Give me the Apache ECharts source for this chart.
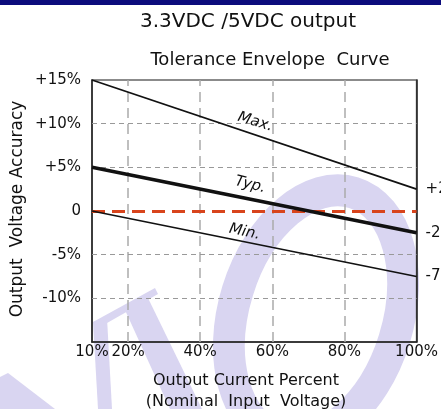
<!DOCTYPE html>
<html>
<head>
<meta charset="utf-8">
<script src="https://cdn.jsdelivr.net/npm/echarts@6/dist/echarts.min.js"></script>
<style>
html,body{margin:0;padding:0;background:#fff;}
#chart{width:441px;height:409px;}
</style>
</head>
<body>
<div id="chart"></div>
<script>
// ---- data ----
const loadPct = [10, 100];              // Output current percent (x)
const maxAcc = [15, 2.5];               // Max. curve
const typAcc = [5, -2.5];               // Typ. curve
const minAcc = [0, -7.5];               // Min. curve
const xTickLabels = [10, 20, 40, 60, 80, 100];
const yTickLabels = [15, 10, 5, 0, -5, -10];
const xGridValues = [20, 40, 60, 80];
const yGridValues = [10, 5, -5, -10];
const endLabels = ['+2.5%', '-2.5%', '-7.5%'];
const curveNames = ['Max.', 'Typ.', 'Min.'];

const FONT = 'DejaVu Sans';
const lav = '#d9d5f1';

const chart = echarts.init(document.getElementById('chart'), null, {renderer: 'canvas'});

function pairs(xs, ys) { return xs.map((x, i) => [x, ys[i]]); }

function curve(name, ys, width, endText, labelCoord, rot) {
  return {
    name: name, type: 'line', data: pairs(loadPct, ys), z: 5,
    symbol: 'none', silent: true,
    lineStyle: {color: '#111', width: width},
    endLabel: {show: true, formatter: endText, distance: 9, color: '#111', fontSize: 15, fontFamily: FONT},
    markPoint: {
      symbol: 'circle', symbolSize: 0, silent: true,
      label: {show: true, position: 'inside', formatter: name, color: '#111', fontSize: 15,
              fontStyle: 'italic', fontFamily: FONT, rotate: rot},
      data: [{coord: labelCoord}]
    }
  };
}

const option = {
  animation: false,
  backgroundColor: '#fff',
  grid: {left: 92, right: 21, top: 80, bottom: 67, show: true, borderColor: '#666', borderWidth: 1.5, backgroundColor: 'transparent'},
  xAxis: {
    type: 'value', min: 10, max: 100, interval: 10,
    axisLine: {show: true, onZero: false, lineStyle: {color: '#222', width: 1.5}},
    axisTick: {show: false}, splitLine: {show: false},
    axisLabel: {margin: 3, color: '#111', fontSize: 15, fontFamily: FONT,
      formatter: v => xTickLabels.indexOf(v) >= 0 ? v + '%' : ''}
  },
  yAxis: [{
    type: 'value', min: -15, max: 15, interval: 5,
    axisLine: {show: true, onZero: false, lineStyle: {color: '#222', width: 1.5}},
    axisTick: {show: false}, splitLine: {show: false},
    axisLabel: {margin: 11, color: '#111', fontSize: 15, fontFamily: FONT,
      formatter: v => yTickLabels.indexOf(v) < 0 ? '' : (v > 0 ? '+' + v + '%' : (v === 0 ? '0' : v + '%'))}
  }, {
    type: 'value', min: -15, max: 15, position: 'right',
    axisLine: {show: true, lineStyle: {color: '#222', width: 1.5}},
    axisTick: {show: false}, axisLabel: {show: false}, splitLine: {show: false}
  }],
  series: [
    {
      type: 'line', data: [], z: 1, silent: true,
      markLine: {
        silent: true, symbol: ['none', 'none'], label: {show: false},
        data: xGridValues.map(v => ({xAxis: v, lineStyle: {color: '#aaa', width: 1.5, type: [10, 6]}}))
          .concat(yGridValues.map(v => ({yAxis: v, lineStyle: {color: '#999', width: 1, type: [5, 4]}})))
      }
    },
    {
      type: 'line', data: [], z: 6, silent: true,
      markLine: {
        silent: true, symbol: ['none', 'none'], label: {show: false},
        data: [{yAxis: 0, lineStyle: {color: '#d8441c', width: 3, type: [13, 7]}}]
      }
    },
    curve(curveNames[0], maxAcc, 1.7, endLabels[0], [55.3, 10.2], -17),
    curve(curveNames[1], typAcc, 3.6, endLabels[1], [53.9, 3.0], -14),
    curve(curveNames[2], minAcc, 1.7, endLabels[2], [52.3, -2.4], -12)
  ],
  graphic: [
    // watermark
    {type: 'ellipse', z: -10, silent: true, x: 316, y: 315, rotation: -0.3,
     shape: {cx: 0, cy: 0, rx: 82, ry: 128}, style: {fill: null, stroke: lav, lineWidth: 32}},
    {type: 'polygon', z: -10, silent: true, shape: {points: [[93,322],[107,318],[112,409],[98,409]]}, style: {fill: lav}},
    {type: 'polygon', z: -10, silent: true, shape: {points: [[125,310],[148,298],[202,409],[170,409]]}, style: {fill: lav}},
    {type: 'polygon', z: -10, silent: true, shape: {points: [[93,322],[155,288],[158,294],[100,327]]}, style: {fill: lav}},
    {type: 'polygon', z: -10, silent: true, shape: {points: [[0,377],[8,373],[55,409],[0,409]]}, style: {fill: lav}},
    // header bar
    {type: 'rect', z: 10, shape: {x: 0, y: 0, width: 441, height: 5}, style: {fill: '#0c0c7c'}},
    {type: 'text', z: 10, x: 248, y: 22, style: {text: '3.3VDC /5VDC output', fill: '#111',
      font: '20px "' + FONT + '"', textAlign: 'center', textVerticalAlign: 'middle'}},
    {type: 'text', z: 10, x: 270, y: 60, style: {text: 'Tolerance Envelope  Curve', fill: '#111',
      font: '18px "' + FONT + '"', textAlign: 'center', textVerticalAlign: 'middle'}},
    {type: 'text', z: 10, x: 18, y: 209, rotation: Math.PI / 2, style: {text: 'Output  Voltage Accuracy', fill: '#111',
      font: '17px "' + FONT + '"', textAlign: 'center', textVerticalAlign: 'middle'}},
    {type: 'text', z: 10, x: 246, y: 381, style: {text: 'Output Current Percent', fill: '#111',
      font: '16px "' + FONT + '"', textAlign: 'center', textVerticalAlign: 'middle'}},
    {type: 'text', z: 10, x: 246, y: 402, style: {text: '(Nominal  Input  Voltage)', fill: '#111',
      font: '16px "' + FONT + '"', textAlign: 'center', textVerticalAlign: 'middle'}}
  ]
};
chart.setOption(option);
</script>
</body>
</html>
